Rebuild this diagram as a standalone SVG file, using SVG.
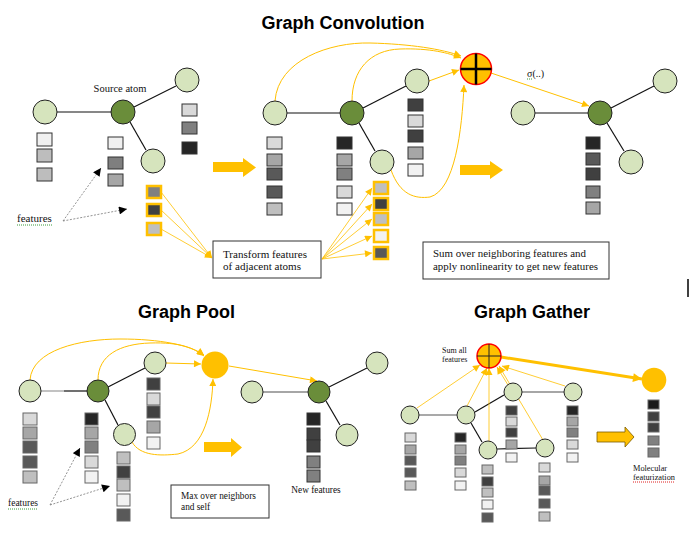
<svg xmlns="http://www.w3.org/2000/svg" width="691" height="543" viewBox="0 0 691 543">
<defs>
<marker id="ao" viewBox="0 0 10 10" refX="10" refY="5" markerUnits="userSpaceOnUse" markerWidth="8" markerHeight="7" orient="auto"><path d="M0,0 L10,5 L0,10 z" fill="#ffc000"/></marker>
<marker id="ao2" viewBox="0 0 10 10" refX="10" refY="5" markerUnits="userSpaceOnUse" markerWidth="11" markerHeight="9" orient="auto"><path d="M0,0 L10,5 L0,10 z" fill="#ffc000"/></marker>
<marker id="ab" viewBox="0 0 10 10" refX="10" refY="5" markerUnits="userSpaceOnUse" markerWidth="10" markerHeight="8" orient="auto"><path d="M0,0 L10,5 L0,10 z" fill="#000"/></marker>
</defs>
<style>
.title{font-family:"Liberation Sans",Arial,sans-serif;font-weight:bold;font-size:18px;fill:#000}
.t{font-family:"Liberation Serif","Times New Roman",serif;fill:#111}
.lt{fill:#d6e4bd;stroke:#222;stroke-width:1}
.dk{fill:#6a8d3a;stroke:#222;stroke-width:1}
.e{stroke:#111;stroke-width:1.2;fill:none}
.eg{stroke:#888;stroke-width:1.5;fill:none}
.sq rect{stroke:#333;stroke-width:1}
.sq2 rect{stroke:#666;stroke-width:1}
.osq rect{stroke:#ffc000;stroke-width:2.5}
.oa{stroke:#ffc000;stroke-width:1;fill:none;marker-end:url(#ao)}
.ol{stroke:#ffc000;stroke-width:0.8;fill:none;marker-end:url(#ao)}
.da{stroke:#777;stroke-width:0.8;stroke-dasharray:2,1.5;fill:none;marker-end:url(#ab)}
.box{fill:#fff;stroke:#333;stroke-width:1}
.big{fill:#ffc000}
.plus{fill:#ffc000;stroke:#ff0000;stroke-width:1.5}
.gu{stroke:#3a9a3a;stroke-width:1;stroke-dasharray:1,1}
.ru{stroke:#e02020;stroke-width:1;stroke-dasharray:1,1}
</style>
<rect width="691" height="543" fill="#fff"/>

<text class="title" x="343" y="29" text-anchor="middle">Graph Convolution</text>
<text class="title" x="186.5" y="318" text-anchor="middle">Graph Pool</text>
<text class="title" x="532" y="318" text-anchor="middle">Graph Gather</text>
<line x1="688" y1="279" x2="688" y2="297" stroke="#000" stroke-width="1.5"/>

<!-- ===== connectors ===== -->
<g id="connectors">
 <!-- conv panel 1 edges -->
 <line class="e" x1="57" y1="112" x2="111" y2="112"/>
 <line class="e" x1="134" y1="107" x2="176" y2="86"/>
 <line class="e" x1="130" y1="122" x2="146" y2="150"/>
 <!-- conv panel 2 edges -->
 <line class="e" x1="287" y1="113" x2="340" y2="113"/>
 <line class="e" x1="363" y1="108" x2="406" y2="86"/>
 <line class="e" x1="359" y1="123" x2="375" y2="151"/>
 <!-- conv panel 3 edges -->
 <line class="e" x1="535" y1="113" x2="588" y2="113"/>
 <line class="e" x1="611" y1="108" x2="654" y2="86"/>
 <line class="e" x1="607" y1="123" x2="624" y2="151"/>
 <!-- features dashed arrows (top) -->
 <line class="da" x1="63" y1="221" x2="101" y2="168"/>
 <line class="da" x1="63" y1="221" x2="127" y2="209"/>
 <!-- transform lines left -->
 <line class="ol" x1="161" y1="192" x2="212" y2="258"/>
 <line class="ol" x1="161" y1="210" x2="212" y2="258"/>
 <line class="ol" x1="161" y1="229" x2="212" y2="258"/>
 <!-- transform lines right -->
 <line class="ol" x1="322" y1="259" x2="372" y2="188"/>
 <line class="ol" x1="322" y1="259" x2="372" y2="204"/>
 <line class="ol" x1="322" y1="259" x2="372" y2="219"/>
 <line class="ol" x1="322" y1="259" x2="372" y2="236"/>
 <line class="ol" x1="322" y1="259" x2="372" y2="253"/>
 <!-- curves to sum -->
 <path class="oa" d="M275,101 C278,60 330,42 370,43 C410,44 442,49 461,56"/>
 <path class="oa" d="M352,101 C352,70 370,50 400,49 C430,48 449,53 461,58"/>
 <line class="oa" x1="429" y1="81" x2="459" y2="70"/>
 <path class="oa" d="M391,170 C400,195 415,199 430,197 C455,190 462,130 464,85"/>
 <line class="oa" x1="491" y1="73" x2="589" y2="106"/>

 <!-- pool left edges -->
 <line stroke="#999" stroke-width="1.2" x1="41" y1="391" x2="64" y2="391"/>
 <line class="e" x1="64" y1="391" x2="87" y2="391"/>
 <line class="e" x1="108" y1="387" x2="145" y2="368"/>
 <line class="e" x1="105" y1="400" x2="118" y2="425"/>
 <!-- pool right edges -->
 <line class="eg" x1="263" y1="392" x2="308" y2="392"/>
 <line class="e" x1="329" y1="387" x2="367" y2="368"/>
 <line class="e" x1="326" y1="401" x2="340" y2="425"/>
 <!-- pool features dashed -->
 <line class="da" x1="50" y1="505" x2="80" y2="448"/>
 <line class="da" x1="50" y1="505" x2="110" y2="486"/>
 <!-- pool curves -->
 <path class="oa" d="M30,380 C32,350 80,339 120,339 C160,339 190,345 204,355"/>
 <path class="oa" d="M98,380 C98,355 120,344 150,343 C180,342 194,348 204,356"/>
 <line class="oa" x1="166" y1="363" x2="201" y2="364"/>
 <path class="oa" d="M132,442 C140,456 160,456 178,454 C205,448 212,410 213,379"/>
 <line class="oa" x1="229" y1="366" x2="317" y2="381"/>

 <!-- gather edges -->
 <line stroke="#555" stroke-width="1.2" x1="419" y1="415" x2="457" y2="415"/>
 <line class="e" x1="475" y1="412" x2="504" y2="395"/>
 <line stroke="#888" stroke-width="1.5" x1="522" y1="392" x2="564" y2="392"/>
 <line class="e" x1="471" y1="423" x2="482" y2="442"/>
 <line class="e" x1="497" y1="449" x2="536" y2="448"/>
 <!-- gather arrows -->
 <line class="ol" x1="417" y1="408" x2="480" y2="365"/>
 <line class="ol" x1="467" y1="406" x2="487" y2="368"/>
 <line class="ol" x1="489" y1="441" x2="489" y2="368"/>
 <line class="ol" x1="508" y1="385" x2="497" y2="367"/>
 <line class="ol" x1="543" y1="440" x2="499" y2="366"/>
 <line class="ol" x1="565" y1="386" x2="502" y2="366"/>
 <line stroke="#ffc000" stroke-width="3" fill="none" marker-end="url(#ao2)" x1="501" y1="357" x2="642" y2="379"/>
</g>

<!-- ===== Graph Convolution panel 1 ===== -->
<g id="conv1-nodes">
 <circle id="c1-a" class="lt" cx="45" cy="112" r="12"/>
 <circle id="c1-src" class="dk" cx="123" cy="112" r="12"/>
 <circle id="c1-tr" class="lt" cx="187" cy="80" r="12"/>
 <circle id="c1-lo" class="lt" cx="153" cy="161" r="12"/>
</g>
<g id="conv1-feat" class="sq">
 <rect x="37" y="133" width="15" height="13" fill="#f0f0f0"/>
 <rect x="37" y="149" width="15" height="13" fill="#bdbdbd"/>
 <rect x="37" y="168" width="15" height="13" fill="#bdbdbd"/>
 <rect x="108" y="137" width="15" height="12" fill="#f0f0f0"/>
 <rect x="108" y="157" width="15" height="12" fill="#7f7f7f"/>
 <rect x="108" y="174" width="15" height="12" fill="#a6a6a6"/>
 <rect x="182" y="104" width="15" height="12" fill="#d9d9d9"/>
 <rect x="182" y="122" width="15" height="12" fill="#808080"/>
 <rect x="182" y="142" width="15" height="12" fill="#262626"/>
</g>
<g id="conv1-ofeat" class="osq">
 <rect x="147" y="186" width="14" height="12" fill="#808080"/>
 <rect x="147" y="204" width="14" height="12" fill="#404040"/>
 <rect x="147" y="223" width="14" height="12" fill="#bfbfbf"/>
</g>
<g id="label-source">
 <text class="t" x="120" y="92" font-size="10.5" text-anchor="middle">Source atom</text>
</g>
<g id="label-features1">
 <text class="t" x="17" y="222" font-size="11">features</text>
 <line class="gu" x1="17" y1="225" x2="52" y2="225"/>
</g>
<g id="arrow1">
 <polygon class="big" points="213,162 243,162 243,158 256,167.5 243,177 243,172 213,172"/>
</g>

<!-- ===== panel 2 ===== -->
<g id="conv2-nodes">
 <circle id="c2-a" class="lt" cx="275" cy="113" r="12"/>
 <circle id="c2-src" class="dk" cx="352" cy="113" r="12"/>
 <circle id="c2-tr" class="lt" cx="417" cy="81" r="12"/>
 <circle id="c2-lo" class="lt" cx="382" cy="162" r="12"/>
</g>
<g id="conv2-feat" class="sq">
 <rect x="267" y="137" width="15" height="12" fill="#d9d9d9"/>
 <rect x="267" y="154" width="15" height="12" fill="#a6a6a6"/>
 <rect x="267" y="168" width="15" height="12" fill="#595959"/>
 <rect x="267" y="186" width="15" height="12" fill="#595959"/>
 <rect x="267" y="203" width="15" height="12" fill="#bfbfbf"/>
 <rect x="337" y="137" width="15" height="12" fill="#262626"/>
 <rect x="337" y="154" width="15" height="12" fill="#a6a6a6"/>
 <rect x="337" y="168" width="15" height="12" fill="#808080"/>
 <rect x="337" y="186" width="15" height="12" fill="#d9d9d9"/>
 <rect x="337" y="203" width="15" height="12" fill="#f2f2f2"/>
 <rect x="408" y="99" width="15" height="12" fill="#404040"/>
 <rect x="408" y="115" width="15" height="12" fill="#d9d9d9"/>
 <rect x="408" y="130" width="15" height="12" fill="#404040"/>
 <rect x="408" y="147" width="15" height="12" fill="#a6a6a6"/>
 <rect x="408" y="164" width="15" height="12" fill="#f2f2f2"/>
</g>
<g id="conv2-ofeat" class="osq">
 <rect x="374" y="182" width="14" height="12" fill="#bfbfbf"/>
 <rect x="374" y="198" width="14" height="12" fill="#404040"/>
 <rect x="374" y="213" width="14" height="12" fill="#bfbfbf"/>
 <rect x="374" y="230" width="14" height="12" fill="#f2f2f2"/>
 <rect x="374" y="247" width="14" height="12" fill="#595959"/>
</g>
<g id="box-transform">
 <rect class="box" x="213" y="241" width="108" height="37"/>
 <text class="t" x="223" y="258" font-size="11" textLength="84" lengthAdjust="spacingAndGlyphs">Transform features</text>
 <text class="t" x="223" y="270" font-size="11" textLength="78" lengthAdjust="spacingAndGlyphs">of adjacent atoms</text>
</g>
<g id="sum-node">
 <circle class="plus" cx="476" cy="69" r="15.5"/>
 <line x1="460.5" y1="69" x2="491.5" y2="69" stroke="#000" stroke-width="2.5"/>
 <line x1="476" y1="53.5" x2="476" y2="84.5" stroke="#000" stroke-width="2.5"/>
</g>
<g id="label-sigma">
 <text class="t" x="527" y="77" font-size="10">σ(..)</text>
 <line class="gu" x1="527" y1="79" x2="533" y2="79"/>
</g>
<g id="arrow2">
 <polygon class="big" points="460,165 490,165 490,161 503,170 490,179 490,175 460,175"/>
</g>

<!-- ===== panel 3 ===== -->
<g id="conv3-nodes">
 <circle id="c3-a" class="lt" cx="523" cy="113" r="12"/>
 <circle id="c3-src" class="dk" cx="600" cy="113" r="12"/>
 <circle id="c3-tr" class="lt" cx="665" cy="81" r="12"/>
 <circle id="c3-lo" class="lt" cx="631" cy="162" r="12"/>
</g>
<g id="conv3-feat" class="sq">
 <rect x="586" y="137" width="14" height="12" fill="#262626"/>
 <rect x="586" y="153" width="14" height="12" fill="#595959"/>
 <rect x="586" y="168" width="14" height="12" fill="#404040"/>
 <rect x="586" y="186" width="14" height="12" fill="#808080"/>
 <rect x="586" y="202" width="14" height="12" fill="#a6a6a6"/>
</g>
<g id="box-sum">
 <rect class="box" x="423" y="242" width="186" height="37"/>
 <text class="t" x="433" y="257" font-size="11" textLength="153" lengthAdjust="spacingAndGlyphs">Sum over neighboring features and</text>
 <text class="t" x="433" y="270" font-size="11" textLength="165" lengthAdjust="spacingAndGlyphs">apply nonlinearity to get new features</text>
</g>

<!-- ===== Graph Pool ===== -->
<g id="pool1-nodes">
 <circle id="p1-a" class="lt" cx="30" cy="391" r="11"/>
 <circle id="p1-src" class="dk" cx="98" cy="391" r="11"/>
 <circle id="p1-tr" class="lt" cx="155" cy="363" r="11"/>
 <circle id="p1-lo" class="lt" cx="124.5" cy="434.5" r="11"/>
</g>
<g id="pool1-feat" class="sq2">
 <rect x="23" y="413" width="14" height="12" fill="#d9d9d9"/>
 <rect x="23" y="427" width="14" height="12" fill="#a6a6a6"/>
 <rect x="23" y="441" width="14" height="12" fill="#595959"/>
 <rect x="23" y="456" width="14" height="12" fill="#595959"/>
 <rect x="23" y="471" width="14" height="12" fill="#bfbfbf"/>
 <rect x="85" y="413" width="13" height="12" fill="#262626"/>
 <rect x="85" y="427" width="13" height="12" fill="#a6a6a6"/>
 <rect x="85" y="441" width="13" height="12" fill="#808080"/>
 <rect x="85" y="456" width="13" height="12" fill="#d9d9d9"/>
 <rect x="85" y="471" width="13" height="12" fill="#f2f2f2"/>
 <rect x="147" y="378" width="13" height="12" fill="#404040"/>
 <rect x="147" y="393" width="13" height="12" fill="#d9d9d9"/>
 <rect x="147" y="406" width="13" height="12" fill="#404040"/>
 <rect x="147" y="421" width="13" height="12" fill="#a6a6a6"/>
 <rect x="147" y="437" width="13" height="12" fill="#f2f2f2"/>
 <rect x="117" y="452" width="13" height="12" fill="#bfbfbf"/>
 <rect x="117" y="466" width="13" height="12" fill="#404040"/>
 <rect x="117" y="479" width="13" height="12" fill="#bfbfbf"/>
 <rect x="117" y="494" width="13" height="12" fill="#f2f2f2"/>
 <rect x="117" y="509" width="13" height="12" fill="#595959"/>
</g>
<g id="label-features2">
 <text class="t" x="8" y="506" font-size="9.5">features</text>
 <line class="gu" x1="8" y1="509" x2="38" y2="509"/>
</g>
<g id="max-node">
 <circle cx="215" cy="365" r="13.5" fill="#ffc000"/>
</g>
<g id="arrow3">
 <polygon class="big" points="204,442 231,442 231,438 242,447.5 231,457 231,452 204,452"/>
</g>
<g id="box-max">
 <rect class="box" x="171" y="485" width="98" height="33"/>
 <text class="t" x="181" y="499" font-size="9.3">Max over neighbors</text>
 <text class="t" x="181" y="510" font-size="9.3">and self</text>
</g>
<g id="pool2-nodes">
 <circle id="p2-a" class="lt" cx="252" cy="392" r="11"/>
 <circle id="p2-src" class="dk" cx="319" cy="392" r="11"/>
 <circle id="p2-tr" class="lt" cx="377" cy="363" r="11"/>
 <circle id="p2-lo" class="lt" cx="347" cy="435" r="11"/>
</g>
<g id="pool2-feat" class="sq">
 <rect x="307" y="413" width="13" height="12" fill="#262626"/>
 <rect x="307" y="428" width="13" height="12" fill="#404040"/>
 <rect x="307" y="440" width="13" height="12" fill="#404040"/>
 <rect x="307" y="456" width="13" height="12" fill="#808080"/>
 <rect x="307" y="470" width="13" height="12" fill="#808080"/>
</g>
<g id="label-newfeat">
 <text class="t" x="316" y="493" font-size="9.3" text-anchor="middle">New features</text>
</g>

<!-- ===== Graph Gather ===== -->
<g id="gather-nodes">
 <circle id="g-n1" class="lt" cx="410" cy="415" r="9"/>
 <circle id="g-n2" class="lt" cx="466" cy="415" r="9"/>
 <circle id="g-n3" class="lt" cx="513" cy="392" r="9"/>
 <circle id="g-n4" class="lt" cx="573" cy="392" r="9"/>
 <circle id="g-n5" class="lt" cx="488" cy="450" r="9"/>
 <circle id="g-n6" class="lt" cx="545" cy="448" r="9"/>
</g>
<g id="gather-feat" class="sq2">
 <rect x="405" y="433" width="11" height="9" fill="#d9d9d9"/>
 <rect x="405" y="445" width="11" height="9" fill="#a6a6a6"/>
 <rect x="405" y="456" width="11" height="9" fill="#595959"/>
 <rect x="405" y="468" width="11" height="9" fill="#595959"/>
 <rect x="405" y="481" width="11" height="9" fill="#bfbfbf"/>
 <rect x="455" y="433" width="11" height="9" fill="#262626"/>
 <rect x="455" y="445" width="11" height="9" fill="#a6a6a6"/>
 <rect x="455" y="456" width="11" height="9" fill="#808080"/>
 <rect x="455" y="468" width="11" height="9" fill="#d9d9d9"/>
 <rect x="455" y="481" width="11" height="9" fill="#f2f2f2"/>
 <rect x="506" y="406" width="11" height="9" fill="#404040"/>
 <rect x="506" y="417" width="11" height="9" fill="#d9d9d9"/>
 <rect x="506" y="428" width="11" height="9" fill="#404040"/>
 <rect x="506" y="440" width="11" height="9" fill="#a6a6a6"/>
 <rect x="506" y="453" width="11" height="9" fill="#f2f2f2"/>
 <rect x="567" y="406" width="11" height="9" fill="#262626"/>
 <rect x="567" y="417" width="11" height="9" fill="#a6a6a6"/>
 <rect x="567" y="428" width="11" height="9" fill="#808080"/>
 <rect x="567" y="440" width="11" height="9" fill="#d9d9d9"/>
 <rect x="567" y="453" width="11" height="9" fill="#f2f2f2"/>
 <rect x="482" y="465" width="11" height="9" fill="#bfbfbf"/>
 <rect x="482" y="477" width="11" height="9" fill="#404040"/>
 <rect x="482" y="488" width="11" height="9" fill="#bfbfbf"/>
 <rect x="482" y="500" width="11" height="9" fill="#f2f2f2"/>
 <rect x="482" y="513" width="11" height="9" fill="#595959"/>
 <rect x="539" y="463" width="11" height="9" fill="#d9d9d9"/>
 <rect x="539" y="476" width="11" height="9" fill="#a6a6a6"/>
 <rect x="539" y="486" width="11" height="9" fill="#595959"/>
 <rect x="539" y="499" width="11" height="9" fill="#595959"/>
 <rect x="539" y="512" width="11" height="9" fill="#bfbfbf"/>
 <rect x="648" y="400" width="11" height="9" fill="#1a1a1a"/>
 <rect x="648" y="412" width="11" height="9" fill="#404040"/>
 <rect x="648" y="423" width="11" height="9" fill="#404040"/>
 <rect x="648" y="436" width="11" height="9" fill="#808080"/>
 <rect x="648" y="448" width="11" height="9" fill="#808080"/>
</g>
<g id="gather-sum">
 <circle class="plus" cx="489" cy="356" r="12" stroke-width="1"/>
 <line x1="477" y1="356" x2="501" y2="356" stroke="#222" stroke-width="1"/>
 <line x1="489" y1="344" x2="489" y2="368" stroke="#222" stroke-width="1"/>
</g>
<g id="label-sumall">
 <text class="t" x="442" y="353" font-size="8">Sum all</text>
 <text class="t" x="442" y="362" font-size="8">features</text>
</g>
<g id="gather-out">
 <circle cx="654" cy="380" r="12.3" fill="#ffc000"/>
</g>
<g id="arrow4">
 <polygon class="big" stroke="#7a5a00" stroke-width="0.8" points="597,432 625,432 625,427 634,437 625,447 625,442 597,442"/>
</g>
<g id="label-molecular">
 <text class="t" x="633" y="471" font-size="8.3">Molecular</text>
 <text class="t" x="633" y="480" font-size="8.3">featurization</text>
 <line class="ru" x1="633" y1="482" x2="675" y2="482"/>
</g>
</svg>
